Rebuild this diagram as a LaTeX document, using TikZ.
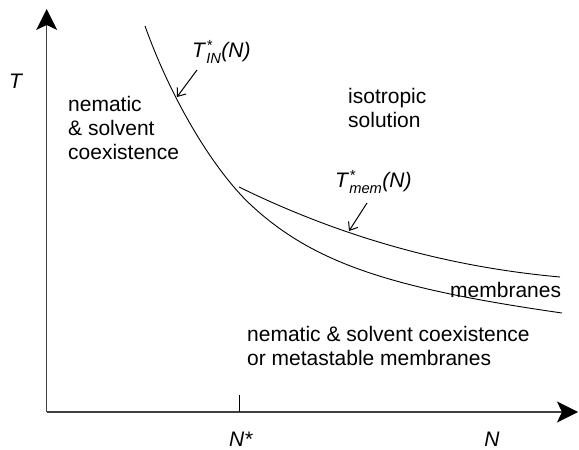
\documentclass[tikz,border=0pt]{standalone}
\usepackage{amsmath}
\usepackage{fontspec}
\setmainfont{Liberation Sans}
\usetikzlibrary{arrows.meta}
\tikzset{
  axis/.style={line width=1.3pt, draw=black!75, -{Stealth[length=21pt,width=21pt,inset=5pt,fill=black,color=black]}},
  curve/.style={line width=0.9pt, draw=black},
  pointer/.style={line width=1pt, -{Straight Barb[length=7pt,width=11pt]}},
  lbl/.style={font=\fontsize{21}{24}\selectfont, inner sep=0pt, anchor=base west},
}
\begin{document}
\begin{tikzpicture}[x=1pt,y=1pt]
\useasboundingbox (0,0) rectangle (579,450);
% axes
\coordinate (O) at (46.7,38);
\coordinate (Ytip) at (46.7,441);
\coordinate (Xtip) at (578,38);
\draw[axis] (O) -- (Ytip);
\draw[axis] (O) -- (Xtip);
\coordinate (tickb) at (239,38);
\coordinate (tickt) at (239,55);
\draw[line width=1pt] (tickb) -- (tickt);
% curves
\coordinate (c1a) at (145,424);
\coordinate (c1b) at (252,244);
\coordinate (c1c) at (562,137);
\draw[curve] (c1a) .. controls (172.5,347) and (216,277) .. (c1b)
  .. controls (314,187) and (391,161.5) .. (c1c);
\coordinate (c2a) at (239,263);
\coordinate (c2b) at (560,173);
\draw[curve] (c2a) .. controls (346,210.6) and (453,182.6) .. (c2b);
% labels
\node[lbl] (T) at (9,361) {\textit{T}};
\node[lbl, anchor=base] (Nstar) at (241,3) {\textit{N*}};
\node[lbl, anchor=base] (N) at (492,3) {\textit{N}};
\node[lbl] (TIN) at (192,392) {\textit{T}$^{\textit{*}}_{\textit{IN}}$\textit{(N)}};
\node[lbl] (Tmem) at (335,262) {\textit{T}$^{\textit{*}}_{\textit{mem}}$\textit{(N)}};
\node[lbl, align=left, anchor=north west] (nem) at (68,354) {nematic\\\& solvent\\coexistence};
\node[lbl, align=left, anchor=north west] (iso) at (348,362) {isotropic\\solution};
\node[lbl] (mem) at (450,152) {membranes};
\node[lbl, align=left, anchor=north west] (bot) at (247,124) {nematic \& solvent coexistence\\or metastable membranes};
% pointers
\coordinate (pinA) at (197,380);
\coordinate (pinB) at (177,353);
\draw[pointer] (pinA) -- (pinB);
\coordinate (pmA) at (367,247);
\coordinate (pmB) at (349,219);
\draw[pointer] (pmA) -- (pmB);
\end{tikzpicture}
\end{document}
